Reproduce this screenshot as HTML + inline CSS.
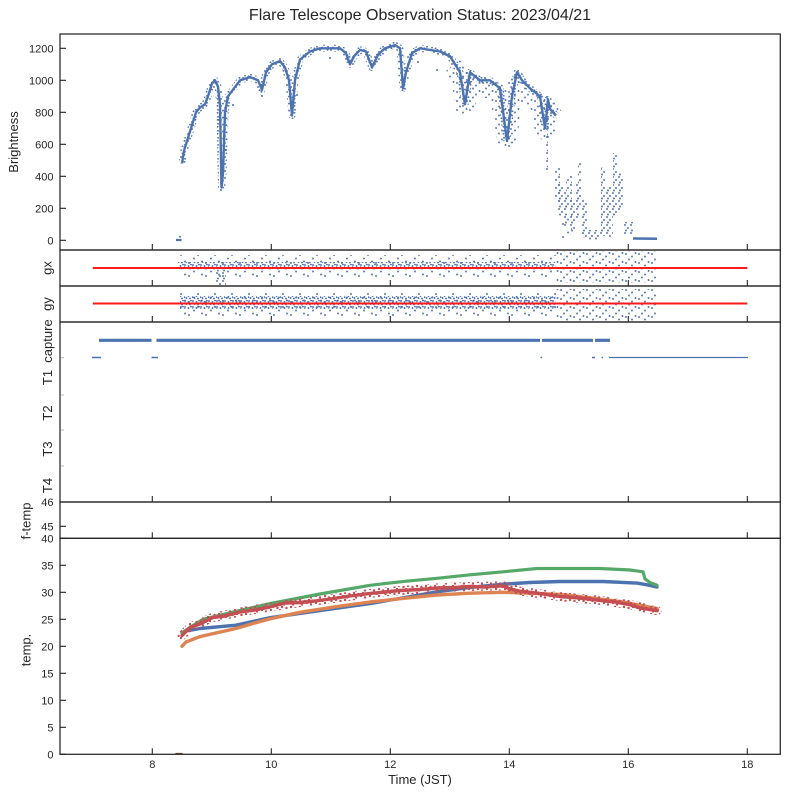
<!DOCTYPE html>
<html><head><meta charset="utf-8">
<style>
html,body{margin:0;padding:0;background:#fff;}
svg{display:block;}
text{font-family:"Liberation Sans","DejaVu Sans",sans-serif;fill:#262626;}
</style></head><body>
<svg width="789" height="798" viewBox="0 0 789 798" xmlns="http://www.w3.org/2000/svg">
<rect width="789" height="798" fill="#fff"/>
<defs>
<clipPath id="cb"><rect x="60" y="34" width="720.3" height="216"/></clipPath>
<clipPath id="cgx"><rect x="60" y="250" width="720.3" height="36"/></clipPath>
<clipPath id="cgy"><rect x="60" y="286" width="720.3" height="36"/></clipPath>
<clipPath id="ct"><rect x="60" y="538.3" width="720.3" height="216"/></clipPath>
<pattern id="pd" width="11" height="7" patternUnits="userSpaceOnUse">
<g fill="#4c72b0"><circle cx="1" cy="1" r="0.95"/><circle cx="5" cy="3" r="0.95"/><circle cx="8.5" cy="0.8" r="0.95"/><circle cx="3" cy="5.6" r="0.95"/><circle cx="9" cy="4.8" r="0.95"/><circle cx="6.5" cy="6.3" r="0.95"/></g>
</pattern>
<pattern id="pg" width="8" height="6" patternUnits="userSpaceOnUse">
<g fill="#4c72b0"><circle cx="1" cy="1" r="0.95"/><circle cx="4.5" cy="2" r="0.95"/><circle cx="7" cy="0.5" r="0.95"/><circle cx="2.5" cy="4" r="0.95"/><circle cx="6" cy="4.5" r="0.95"/><circle cx="0.5" cy="3.2" r="0.9"/></g>
</pattern>
<pattern id="pm" width="13" height="9" patternUnits="userSpaceOnUse">
<g fill="#4c72b0"><circle cx="2" cy="2" r="0.95"/><circle cx="8" cy="4.5" r="0.95"/><circle cx="11.5" cy="1" r="0.95"/><circle cx="5" cy="7.5" r="0.95"/></g>
</pattern>
<pattern id="ps" width="17" height="13" patternUnits="userSpaceOnUse">
<g fill="#4c72b0"><circle cx="2" cy="3" r="0.95"/><circle cx="11" cy="8" r="0.95"/><circle cx="7" cy="11.5" r="0.95"/><circle cx="15" cy="1.5" r="0.95"/></g>
</pattern>
<pattern id="pt" width="6" height="8" patternUnits="userSpaceOnUse">
<g fill="#4c72b0"><circle cx="1" cy="1" r="0.95"/><circle cx="4" cy="4" r="0.95"/><circle cx="2" cy="6.5" r="0.95"/></g>
</pattern>
<pattern id="pr" width="9" height="7" patternUnits="userSpaceOnUse">
<g fill="#c44e52"><circle cx="1" cy="1" r="1.2"/><circle cx="5" cy="2.5" r="1.2"/><circle cx="3" cy="5" r="1.2"/><circle cx="7.5" cy="6" r="1.2"/></g>
</pattern>
</defs>

<!-- Brightness -->
<g clip-path="url(#cb)" fill="none" stroke-linejoin="round">
<polyline stroke="url(#pd)" stroke-width="7" points="182,163.5 184,150.7 188,137.9 192,125.1 196,112.3 200,107.5 205,104.3 208,96.3 212,83.5 215,80.3 218,86.7 220,104.3 221.5,187.5 223,173.1 225,112.3 228,96.3 234,88.3 240,80.3 250,77.1 258,80.3 262,89.9 266,72.3 272,64.3 280,61.1 285,67.5 289,80.3 292,115.5 295,80.3 300,59.5 310,51.5 320,48.3 340,48.3 346,53.1 350,64.3 354,56.3 360,49.9 366,51.5 372,67.5 378,54.7 385,48.3 395,45.1 400,48.3 403,88.3 406,72.3 412,53.1 420,48.3 440,51.5 450,56.3 455,64.3 460,72.3 465,104.3 470,72.3 480,80.3 490,80.3 500,88.3 507,141.1 512,96.3 517,72.3 522,80.3 530,88.3 540,96.3 545,128.3 548,99.5 550,109.1 556,115.5"/>
<polyline stroke="#4c72b0" stroke-width="2.4" points="182,163.5 184,150.7 188,137.9 192,125.1 196,112.3 200,107.5 205,104.3 208,96.3 212,83.5 215,80.3 218,86.7 220,104.3 221.5,187.5 223,173.1 225,112.3 228,96.3 234,88.3 240,80.3 250,77.1 258,80.3 262,89.9 266,72.3 272,64.3 280,61.1 285,67.5 289,80.3 292,115.5 295,80.3 300,59.5 310,51.5 320,48.3 340,48.3 346,53.1 350,64.3 354,56.3 360,49.9 366,51.5 372,67.5 378,54.7 385,48.3 395,45.1 400,48.3 403,88.3 406,72.3 412,53.1 420,48.3 440,51.5 450,56.3 455,64.3 460,72.3 465,104.3 470,72.3 480,80.3 490,80.3 500,88.3 507,141.1 512,96.3 517,72.3 522,80.3 530,88.3 540,96.3 545,128.3 548,99.5 550,109.1 556,115.5"/>
<polyline stroke="url(#pm)" stroke-width="20" points="452,66 457,72 462,82 465,106 470,82 480,88 490,88 500,96 507,138 512,104 517,82 522,88 530,96 540,104 545,130 548,108 554,118"/>
</g>
<g clip-path="url(#cb)" fill="#4c72b0">
<circle cx="233" cy="105" r="1"/><circle cx="262" cy="96" r="1"/><circle cx="297" cy="95" r="1"/><circle cx="330" cy="58" r="1"/><circle cx="418" cy="62" r="1"/><circle cx="437" cy="70" r="1"/><circle cx="226" cy="150" r="1"/><circle cx="224" cy="135" r="1"/><circle cx="219" cy="120" r="1"/>
</g>
<g clip-path="url(#cb)">
<rect x="545" y="96" width="3" height="74" fill="url(#pt)"/>
<rect x="555" y="168" width="5" height="34" fill="url(#pt)"/>
<rect x="557" y="184" width="6" height="32" fill="url(#pt)"/>
<rect x="563" y="192" width="4" height="34" fill="url(#pt)"/>
<rect x="566" y="176" width="6" height="32" fill="url(#pt)"/>
<rect x="570" y="200" width="5" height="32" fill="url(#pt)"/>
<rect x="560" y="214" width="12" height="24" fill="url(#ps)"/>
<rect x="575" y="184" width="4" height="36" fill="url(#pt)"/>
<rect x="578" y="163" width="4" height="45" fill="url(#pt)"/>
<rect x="582" y="200" width="6" height="38" fill="url(#pt)"/>
<rect x="588" y="230" width="13" height="10" fill="url(#pt)"/>
<rect x="601" y="167" width="4" height="69" fill="url(#pt)"/>
<rect x="605" y="187" width="8" height="50" fill="url(#pt)"/>
<rect x="613" y="153" width="5" height="63" fill="url(#pt)"/>
<rect x="618" y="173" width="5" height="37" fill="url(#pt)"/>
<rect x="623" y="222" width="10" height="12" fill="url(#pt)"/>
<line x1="633" y1="238.5" x2="657" y2="238.8" stroke="#4c72b0" stroke-width="2.5"/>
<line x1="176" y1="240" x2="181.5" y2="240" stroke="#4c72b0" stroke-width="2.2"/>
<circle cx="180" cy="236.8" r="1" fill="#4c72b0"/>
</g>

<!-- gx -->
<g clip-path="url(#cgx)">
<rect x="178" y="262" width="378" height="8" fill="url(#pg)"/>
<rect x="178" y="255" width="378" height="22" fill="url(#ps)"/>
<rect x="216" y="268" width="10" height="18" fill="url(#pt)"/>
<rect x="556" y="251" width="101" height="32" fill="url(#pm)"/>
</g>
<!-- gy -->
<g clip-path="url(#cgy)">
<rect x="180" y="296" width="376" height="13" fill="url(#pg)"/>
<rect x="180" y="290" width="376" height="28" fill="url(#ps)"/>
<rect x="556" y="289" width="101" height="33" fill="url(#pm)"/>
</g>

<!-- capture panel data -->
<g stroke="#4c72b0" fill="none">
<line x1="99" y1="340.3" x2="151.5" y2="340.3" stroke-width="3.2"/>
<line x1="156.5" y1="340.3" x2="540" y2="340.3" stroke-width="3.2"/>
<line x1="542" y1="340.3" x2="593" y2="340.3" stroke-width="3.2"/>
<line x1="595" y1="340.3" x2="610" y2="340.3" stroke-width="3.2"/>
<line x1="92" y1="357.5" x2="101" y2="357.5" stroke-width="1.5"/>
<line x1="151.5" y1="357.5" x2="158" y2="357.5" stroke-width="1.5"/>
<line x1="540.5" y1="357.5" x2="542" y2="357.5" stroke-width="1.5"/>
<line x1="592" y1="357.5" x2="595" y2="357.5" stroke-width="1.5"/>
<line x1="601.5" y1="357.5" x2="603" y2="357.5" stroke-width="1.5"/>
<line x1="609" y1="357.5" x2="748" y2="357.5" stroke-width="1.2"/>
</g>

<!-- red reference lines -->
<line x1="92.8" y1="268" x2="747.3" y2="268" stroke="#ff1a1a" stroke-width="2"/>
<line x1="92.8" y1="303.5" x2="747.3" y2="303.5" stroke="#ff1a1a" stroke-width="2"/>

<!-- temperatures -->
<g clip-path="url(#ct)" fill="none" stroke-linejoin="round" stroke-linecap="round">
<polyline stroke="#4c72b0" stroke-width="3.4" points="182,632.8 185,631.2 200,628.5 236,625.2 270,617.7 300,613.4 335,608.5 370,603.6 405,597.5 437,591.8 470,587.5 503,584.2 530,582.5 560,581.5 603,581.5 637,583.1 647,584.8 657,586.9"/>
<polyline stroke="#dd8452" stroke-width="3.4" points="182,646.3 186,642.0 200,636.6 218,632.5 236,628.5 253,623.5 270,618.8 300,612.3 335,606.8 370,602.0 405,598.2 437,595.0 470,593.2 503,592.3 530,593.2 560,594.5 590,597.8 620,601.5 657,608.5"/>
<polyline stroke="#55a868" stroke-width="3.2" points="182,632.8 190,627.4 203,619.3 235,611.5 270,603.6 320,594 370,585.3 405,581.3 437,578.3 470,574.8 503,571.8 537,568.5 600,568.5 630,570 643,571.8 645,578.8 650,582.6 657,585.3"/>
<polyline stroke="url(#pr)" stroke-width="9" points="182,635.5 190,627.4 212,617.7 240,612 270,606.9 300,602.5 330,599 370,593.4 400,590.5 437,588.0 470,586.5 503,585.8 520,591.2 560,596.6 600,600.4 630,604.7 657,610.7"/>
<polyline stroke="#c44e52" stroke-width="3.4" points="182,635.5 190,627.4 200,624 212,617.7 225,616 240,612 255,610 270,606.9 285,603 300,602.5 315,601 330,599 350,596 370,593.4 385,592 400,590.5 420,589.5 437,588.0 455,587.5 470,586.5 485,587 503,585.8 510,589 520,591.2 540,593.5 560,596.6 580,598 600,600.4 615,602 630,604.7 640,608 657,610.7"/>
<line x1="176" y1="753.6" x2="182" y2="753.6" stroke="#8c3a3c" stroke-width="1.5"/>
</g>

<!-- frames -->
<g fill="none" stroke="#262626" stroke-width="1.25">
<rect x="60" y="34" width="720.3" height="216"/>
<rect x="60" y="250" width="720.3" height="36"/>
<rect x="60" y="286" width="720.3" height="36"/>
<rect x="60" y="322" width="720.3" height="180"/>
<rect x="60" y="502" width="720.3" height="36.3"/>
<rect x="60" y="538.3" width="720.3" height="216"/>
</g>

<!-- ticks -->
<path fill="none" stroke="#262626" stroke-width="1.1" d="
M152.3 250v-6M271.3 250v-6M390.3 250v-6M509.3 250v-6M628.3 250v-6M747.3 250v-6
M152.3 286v-6M271.3 286v-6M390.3 286v-6M509.3 286v-6M628.3 286v-6M747.3 286v-6
M152.3 322v-6M271.3 322v-6M390.3 322v-6M509.3 322v-6M628.3 322v-6M747.3 322v-6
M152.3 502v-6M271.3 502v-6M390.3 502v-6M509.3 502v-6M628.3 502v-6M747.3 502v-6
M152.3 538.3v-6M271.3 538.3v-6M390.3 538.3v-6M509.3 538.3v-6M628.3 538.3v-6M747.3 538.3v-6
M152.3 754.3v-6M271.3 754.3v-6M390.3 754.3v-6M509.3 754.3v-6M628.3 754.3v-6M747.3 754.3v-6
M60 48.3h6M60 80.3h6M60 112.3h6M60 144.3h6M60 176.3h6M60 208.3h6M60 240.3h6
M60 502h6M60 526.3h6
M60 538.3h6M60 565.3h6M60 592.3h6M60 619.3h6M60 646.3h6M60 673.3h6M60 700.3h6M60 727.3h6M60 754.3h6"/>
<path fill="none" stroke="#bbbbbb" stroke-width="1" d="M61 357.7h3M61 395h3M61 430h3M61 466h3"/>

<!-- title -->
<text x="420" y="20" font-size="16" text-anchor="middle">Flare Telescope Observation Status: 2023/04/21</text>

<!-- y tick labels -->
<g font-size="11" text-anchor="end">
<text x="53.5" y="52.3">1200</text>
<text x="53.5" y="84.3">1000</text>
<text x="53.5" y="116.3">800</text>
<text x="53.5" y="148.3">600</text>
<text x="53.5" y="180.3">400</text>
<text x="53.5" y="212.3">200</text>
<text x="53.5" y="244.3">0</text>
<text x="53.5" y="506">46</text>
<text x="53.5" y="530.3">45</text>
<text x="53.5" y="542.3">40</text>
<text x="53.5" y="569.3">35</text>
<text x="53.5" y="596.3">30</text>
<text x="53.5" y="623.3">25</text>
<text x="53.5" y="650.3">20</text>
<text x="53.5" y="677.3">15</text>
<text x="53.5" y="704.3">10</text>
<text x="53.5" y="731.3">5</text>
<text x="53.5" y="758.3">0</text>
</g>

<!-- x tick labels -->
<g font-size="11" text-anchor="middle">
<text x="152.3" y="768">8</text>
<text x="271.3" y="768">10</text>
<text x="390.3" y="768">12</text>
<text x="509.3" y="768">14</text>
<text x="628.3" y="768">16</text>
<text x="747.3" y="768">18</text>
</g>
<text x="420" y="784" font-size="13" text-anchor="middle">Time (JST)</text>

<!-- y labels -->
<g font-size="13" text-anchor="middle">
<text transform="translate(18,142) rotate(-90)">Brightness</text>
<text transform="translate(51.5,268) rotate(-90)">gx</text>
<text transform="translate(51.5,304) rotate(-90)">gy</text>
<text transform="translate(52,341) rotate(-90)">capture</text>
<text transform="translate(52,377.5) rotate(-90)">T1</text>
<text transform="translate(52,413) rotate(-90)">T2</text>
<text transform="translate(52,449) rotate(-90)">T3</text>
<text transform="translate(52,485.5) rotate(-90)">T4</text>
<text transform="translate(30.5,521) rotate(-90)">f-temp</text>
<text transform="translate(30.5,650) rotate(-90)">temp.</text>
</g>
</svg>
</body></html>
